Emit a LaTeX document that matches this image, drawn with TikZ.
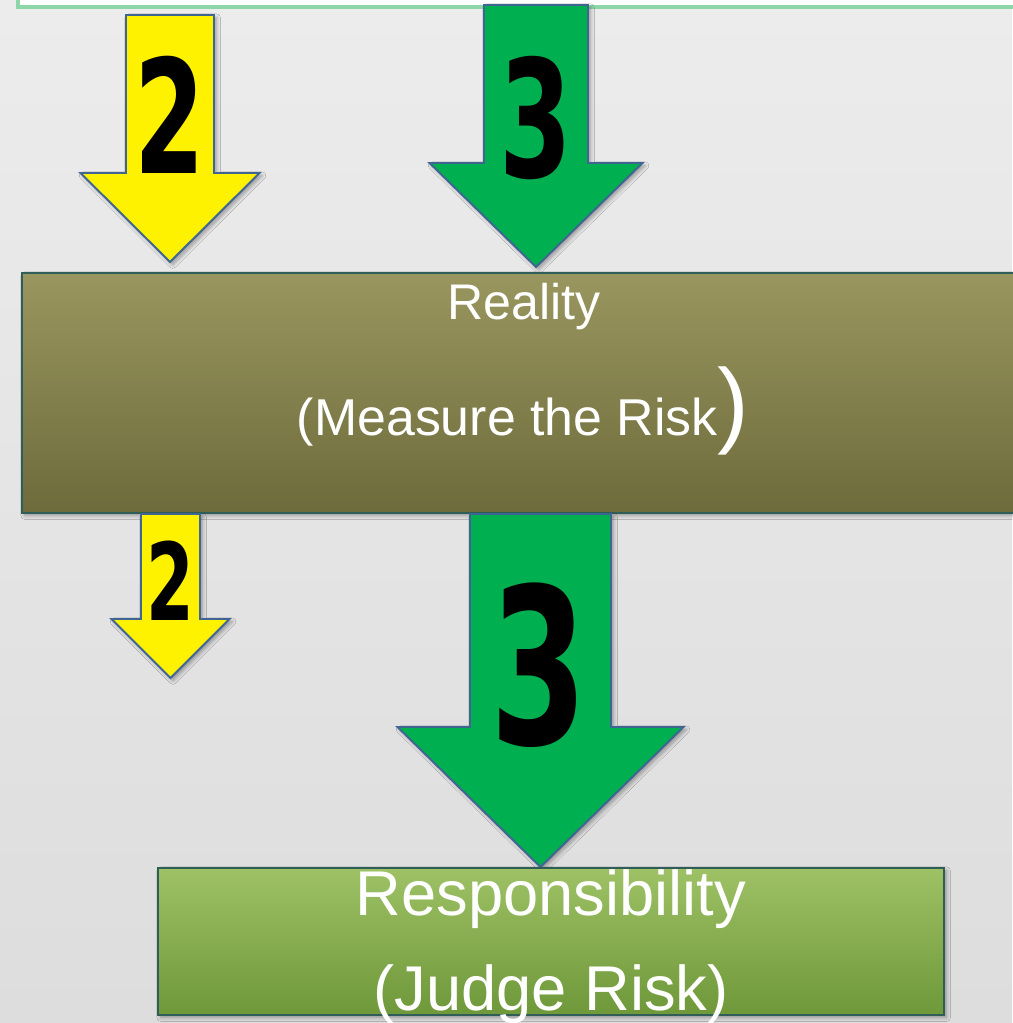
\documentclass[tikz,border=0pt]{standalone}
\usepackage{fontspec}
\setmainfont{Liberation Sans}
\newfontfamily\digitfamily{DejaVu Sans}
\usetikzlibrary{shadows.blur}
\definecolor{bglight}{RGB}{236,236,236}
\definecolor{bgdark}{RGB}{221,221,221}
\definecolor{framegreen}{RGB}{140,214,168}
\definecolor{arrowblue}{RGB}{63,101,147}
\definecolor{arrowgreen}{RGB}{0,176,80}
\definecolor{olivetop}{RGB}{153,150,95}
\definecolor{olivebot}{RGB}{109,107,59}
\definecolor{leaftop}{RGB}{158,193,101}
\definecolor{leafbot}{RGB}{110,152,58}
\definecolor{boxline}{RGB}{47,94,88}
\tikzset{
	shade/.style={blur shadow={shadow xshift=1.5pt, shadow yshift=-1.5pt,
			shadow blur steps=6, shadow opacity=35}},
	blockarrow/.style={draw=arrowblue, line width=1.1pt, line join=miter, shade},
	box/.style={draw=boxline, line width=1.1pt, shade},
	lbl/.style={text=white, inner sep=0pt, anchor=base},
	num/.style={text=black, inner sep=0pt, xscale=0.64}
}
\newcommand{\numsize}[1]{\digitfamily\bfseries\fontsize{#1}{#1}\selectfont}
\newcommand{\blockarrow}[7]{%
	\path[blockarrow, fill=#1] (#2-#3,#5) -- (#2+#3,#5) -- (#2+#3,#6) -- (#2+#4,#6)
	-- (#2,#7) -- (#2-#4,#6) -- (#2-#3,#6) -- cycle;}

\begin{document}
\begin{tikzpicture}[x=0.02cm, y=-0.02cm]
\useasboundingbox (0,0) rectangle (1012,1023);
\fill[top color=bglight, bottom color=bgdark] (0,0) rectangle (1012,1023);

\draw[fill=white, draw=framegreen, line width=2.2pt] (18,-20) rectangle (1040,7);

\blockarrow{yellow}{170}{44}{89.5}{15}{173}{262}
\blockarrow{arrowgreen}{536}{52}{106.5}{5}{163}{267}

\path[box, top color=olivetop, bottom color=olivebot] (22,273) rectangle (1040,513);

\blockarrow{yellow}{170.5}{29.5}{59}{514}{619}{678}
\blockarrow{arrowgreen}{540.5}{70.5}{143}{514}{727}{867}

\path[box, top color=leaftop, bottom color=leafbot] (158,868) rectangle (944,1015);

\node[num, font=\numsize{90}] (two1) at (170,115) {2};
\node[num, font=\numsize{93}] (three1) at (536,118) {3};
\node[num, font=\numsize{61}] (two2) at (170,581) {2};
\node[num, font=\numsize{124}] (three2) at (539,665) {3};

\node[lbl, font=\fontsize{28.5}{34}\selectfont] (reality) at (524,320) {Reality};
\node[lbl, font=\fontsize{29.5}{34}\selectfont] (measure) at (523,435)
	{(Measure the Risk{\fontsize{54}{54}\selectfont)}};
\node[lbl, font=\fontsize{36}{42}\selectfont] (resp) at (551,915) {Responsibility};
\node[lbl, font=\fontsize{36}{42}\selectfont] (judge) at (551,1010) {(Judge Risk)};
\end{tikzpicture}
\end{document}
